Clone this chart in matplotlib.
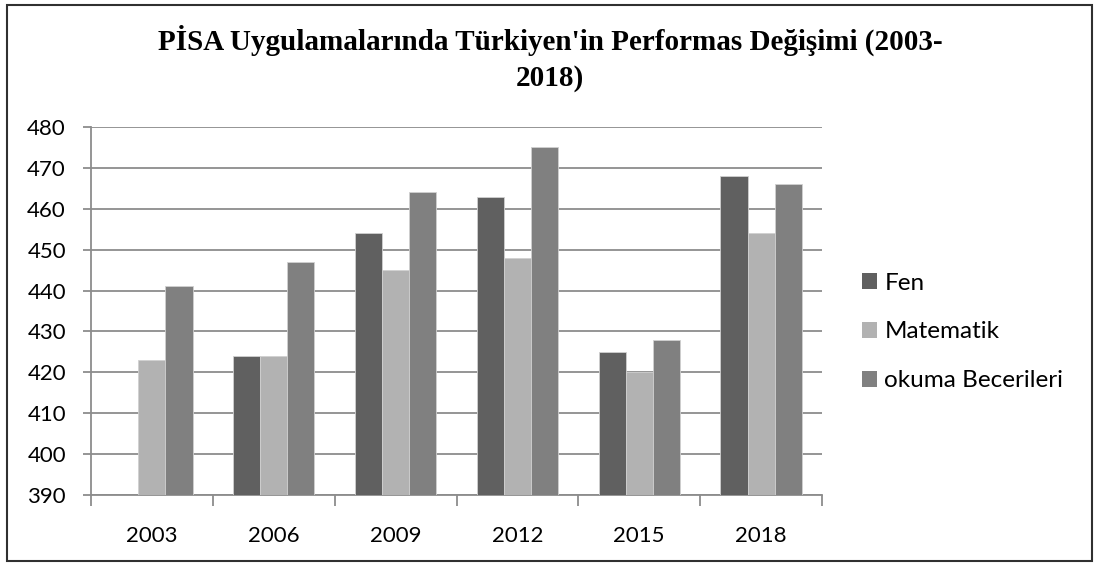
import numpy as np
import matplotlib
matplotlib.use("Agg")
import matplotlib.pyplot as plt
from matplotlib.patches import Rectangle, Patch

years = ["2003", "2006", "2009", "2012", "2015", "2018"]
fen = [np.nan, 424, 454, 463, 425, 468]
matematik = [423, 424, 445, 448, 420, 454]
okuma = [441, 447, 464, 475, 428, 466]
series_names = ["Fen", "Matematik", "okuma Becerileri"]
colors = ["#606060", "#b2b2b2", "#808080"]
title = "PİSA Uygulamalarında Türkiyen'in Performas Değişimi (2003-\n2018)"

W, H = 1094, 563
fig = plt.figure(figsize=(W / 100, H / 100), dpi=100)
fig.patch.set_facecolor("white")

ax = fig.add_axes([91 / W, 1 - 495 / H, (822 - 91) / W, (495 - 127) / H])

tick_font = "Lato"
fs = 16

x = np.arange(len(years))
bw = 1 / 4.5
for i, (vals, c, name) in enumerate(zip([fen, matematik, okuma], colors, series_names)):
    v = np.array(vals, dtype=float)
    ax.bar(x + (i - 1) * bw, v - 390, bottom=390, width=bw, color=c,
           edgecolor="#d0d0d0", linewidth=0.6, label=name, zorder=3)

ax.set_ylim(390, 480)
ax.set_xlim(-0.5, len(years) - 0.5)
ax.set_yticks(np.arange(390, 481, 10))
ax.yaxis.grid(True, color="#8c8c8c", linewidth=1.3, zorder=0)
ax.set_axisbelow(True)

for s in ["top", "right"]:
    ax.spines[s].set_visible(False)
for s in ["left", "bottom"]:
    ax.spines[s].set_color("#8c8c8c")
    ax.spines[s].set_linewidth(1.3)

ax.set_xticks(x)
ax.set_xticklabels(years)
ax.set_xticks(np.arange(-0.5, len(years), 1), minor=True)
ax.tick_params(axis="x", which="major", length=0, pad=22)
ax.tick_params(axis="x", which="minor", length=8, width=1.3, color="#8c8c8c", direction="out")
ax.tick_params(axis="y", which="major", length=6, width=1.3, color="#8c8c8c", pad=12)
for lab in ax.get_xticklabels() + ax.get_yticklabels():
    lab.set_fontfamily(tick_font)
    lab.set_fontsize(fs)
    lab.set_color("black")

handles = [Patch(facecolor=c, edgecolor="none") for c in colors]
fig.legend(handles, series_names, loc="center left",
           bbox_to_anchor=(862 / W, 1 - 332 / H), frameon=False,
           prop={"family": tick_font, "size": 17.5},
           handlelength=0.62, handleheight=0.62, handletextpad=0.3,
           labelspacing=1.15, borderpad=0, borderaxespad=0)

fig.text(550 / W, 1 - 58 / H, title, ha="center", va="center",
         fontfamily="Liberation Serif", fontweight="bold", fontsize=21,
         linespacing=1.4)

fig.patches.append(Rectangle((7 / W, 1 - 561 / H), (1092 - 7) / W, (561 - 5) / H,
                             transform=fig.transFigure, fill=False,
                             edgecolor="#303030", linewidth=1.5))

fig.savefig("out.png", dpi=100)
